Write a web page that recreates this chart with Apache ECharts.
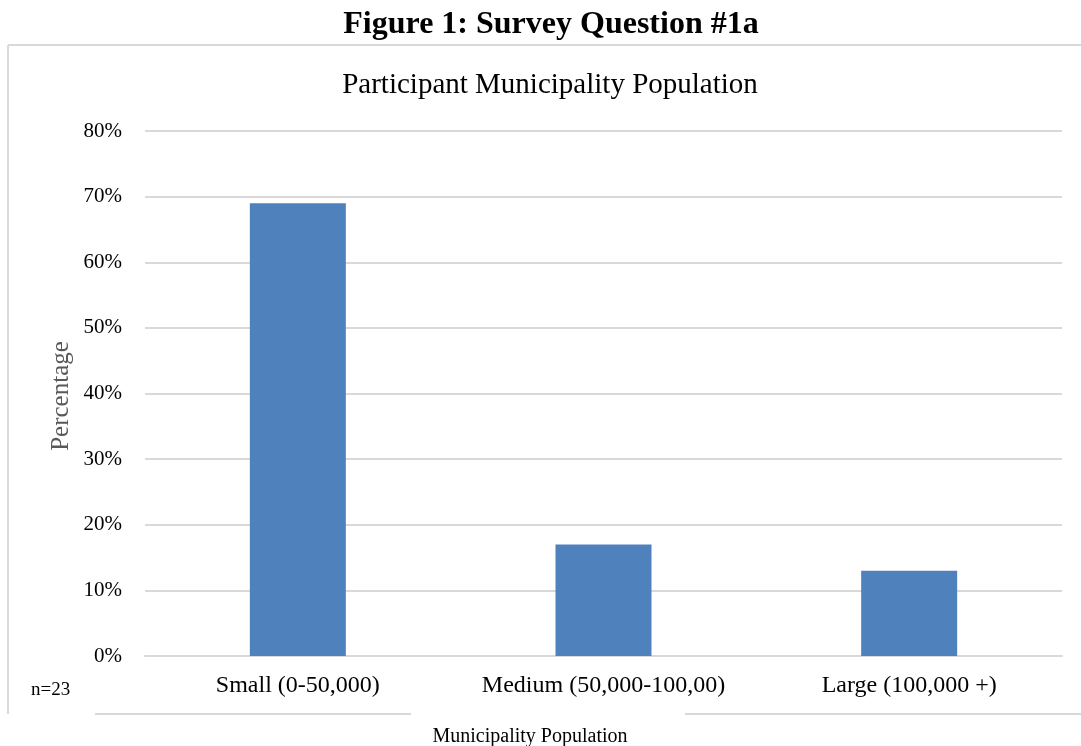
<!DOCTYPE html>
<html>
<head>
<meta charset="utf-8">
<title>Figure 1: Survey Question #1a</title>
<script src="https://cdn.jsdelivr.net/npm/echarts@6/dist/echarts.min.js"></script>
<style>
  html, body { margin: 0; padding: 0; background: #ffffff; }
  #chart { width: 1081px; height: 746px; }
</style>
</head>
<body>
<div id="chart"></div>
<script>
// Survey responses by municipality size (n = 23)
const categories = ['Small (0-50,000)', 'Medium (50,000-100,00)', 'Large (100,000 +)'];
const percentages = [69, 17, 13];
const yTicks = [0, 10, 20, 30, 40, 50, 60, 70, 80];

const serif = '"Liberation Serif", "Times New Roman", serif';
const chart = echarts.init(document.getElementById('chart'));

chart.setOption({
  animation: false,
  backgroundColor: '#ffffff',
  title: [
    {
      text: 'Figure 1: Survey Question #1a',
      left: 546, textAlign: 'center',
      top: 4,
      textStyle: { fontFamily: serif, fontSize: 32, fontWeight: 'bold', color: '#000000' }
    },
    {
      text: 'Participant Municipality Population',
      left: 545, textAlign: 'center',
      top: 66,
      textStyle: { fontFamily: serif, fontSize: 29, fontWeight: 'normal', color: '#000000' }
    }
  ],
  grid: { left: 145, right: 19, top: 131, bottom: 90 },
  xAxis: {
    type: 'category',
    data: categories,
    axisLine: { show: true, lineStyle: { color: '#d9d9d9', width: 2 } },
    axisTick: { show: false },
    axisLabel: {
      interval: 0, hideOverlap: false,
      fontFamily: serif, fontSize: 24, color: '#000000', margin: 18
    }
  },
  yAxis: {
    type: 'value',
    min: yTicks[0],
    max: yTicks[yTicks.length - 1],
    interval: 10,
    axisLine: { show: false },
    axisTick: { show: false },
    splitLine: { lineStyle: { color: '#d9d9d9', width: 2 } },
    axisLabel: {
      fontFamily: serif, fontSize: 21, color: '#000000', margin: 23,
      formatter: v => v + '%'
    }
  },
  series: [{
    type: 'bar',
    data: percentages,
    barWidth: 96,
    itemStyle: { color: '#4f81bd' }
  }],
  graphic: [
    // outer frame of the chart area
    { type: 'line', shape: { x1: 8, y1: 45, x2: 1081, y2: 45 }, style: { stroke: '#d9d9d9', lineWidth: 2 } },
    { type: 'line', shape: { x1: 8, y1: 45, x2: 8, y2: 714 }, style: { stroke: '#d9d9d9', lineWidth: 2 } },
    { type: 'line', shape: { x1: 95, y1: 714, x2: 411, y2: 714 }, style: { stroke: '#d9d9d9', lineWidth: 2 } },
    { type: 'line', shape: { x1: 685, y1: 714, x2: 1081, y2: 714 }, style: { stroke: '#d9d9d9', lineWidth: 2 } },
    // axis titles and notes
    {
      type: 'text', x: 61, y: 396, rotation: Math.PI / 2,
      style: { text: 'Percentage', font: '25px ' + serif, fill: '#595959', align: 'center', verticalAlign: 'middle' }
    },
    {
      type: 'text', x: 31, y: 690,
      style: { text: 'n=23', font: '19px ' + serif, fill: '#000000', align: 'left', verticalAlign: 'middle' }
    },
    {
      type: 'text', x: 530, y: 737,
      style: { text: 'Municipality Population', font: '20px ' + serif, fill: '#000000', align: 'center', verticalAlign: 'middle' }
    }
  ]
});
</script>
</body>
</html>
